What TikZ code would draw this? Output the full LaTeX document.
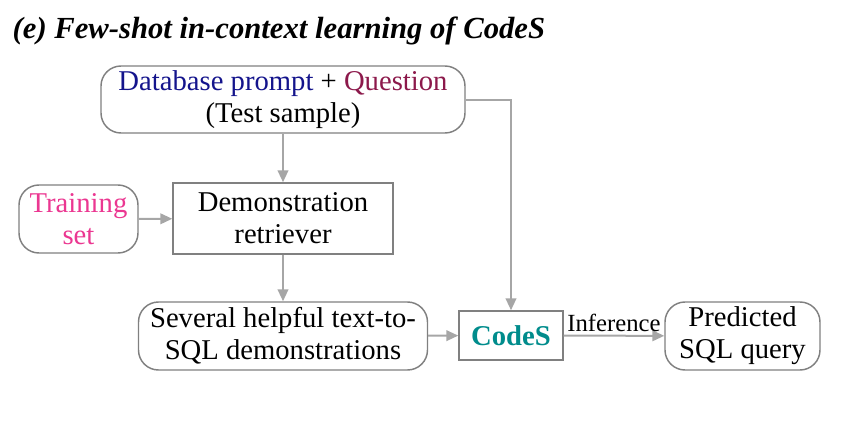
\documentclass[tikz,border=0pt]{standalone}
\usepackage{fontspec}
\setmainfont{Liberation Serif}
\usepackage{tikz}
\usetikzlibrary{arrows.meta}
\usetikzlibrary{positioning}
\definecolor{PromptBlue}{RGB}{20,20,140}
\definecolor{QuestRed}{RGB}{140,25,75}
\definecolor{TrainPink}{RGB}{235,55,145}
\definecolor{CodesTeal}{RGB}{0,140,140}
\definecolor{LineGray}{RGB}{166,166,166}
\definecolor{BoxGray}{RGB}{128,128,128}
\newcommand{\boxFont}{\fontsize{21.5}{24}\selectfont}
\begin{document}
\begin{tikzpicture}[x=0.75pt, y=-0.75pt,
		roundbox/.style={draw=BoxGray, line width=1.1pt, rounded corners=15pt, align=center, font=\boxFont, inner sep=0pt},
		sharpbox/.style={draw=BoxGray, line width=1.1pt, align=center, font=\boxFont, inner sep=0pt},
		flow/.style={draw=LineGray, line width=1.5pt, -{Triangle[length=9pt,width=8pt]}}]
	
		\useasboundingbox (0,0) rectangle (865,421);
		
		\node [anchor=base west, font=\fontsize{23}{26}\selectfont\bfseries\itshape] (title) at (8,38) {(e) Few-shot in-context learning of CodeS};
		
		\node [roundbox, minimum width=273pt, minimum height=50.25pt] (prompt) at (283,99.5)
			{\textcolor{PromptBlue}{Database prompt} + \textcolor{QuestRed}{Question}\\(Test sample)};
		\node [sharpbox, minimum width=165pt, minimum height=53.25pt] (retriever) at (283,218.5) {Demonstration\\retriever};
		\node [roundbox, minimum width=89.25pt, minimum height=51pt, text=TrainPink] (train) at (78.5,219) {Training\\set};
		\node [roundbox, minimum width=216.75pt, minimum height=51pt] (demos) at (283,336) {Several helpful text-to-\\SQL demonstrations};
		\node [sharpbox, minimum width=78pt, minimum height=36.75pt, text=CodesTeal, font=\boxFont\bfseries] (codes) at (511,335.5) {CodeS};
		\node [roundbox, minimum width=116.25pt, minimum height=51pt] (pred) at (742.5,336) {Predicted\\SQL query};
		
		\draw [flow] (prompt) -- (retriever);
		\draw [flow] (train) -- (retriever);
		\draw [flow] (retriever) -- (demos);
		\draw [flow] (demos) -- (codes);
		\draw [flow] (prompt.east) -| (codes.north);
		\draw [flow] (codes) -- node [above, inner sep=2pt, font=\fontsize{18.5}{20}\selectfont] (infer) {Inference} (pred);
	\end{tikzpicture}
\end{document}
